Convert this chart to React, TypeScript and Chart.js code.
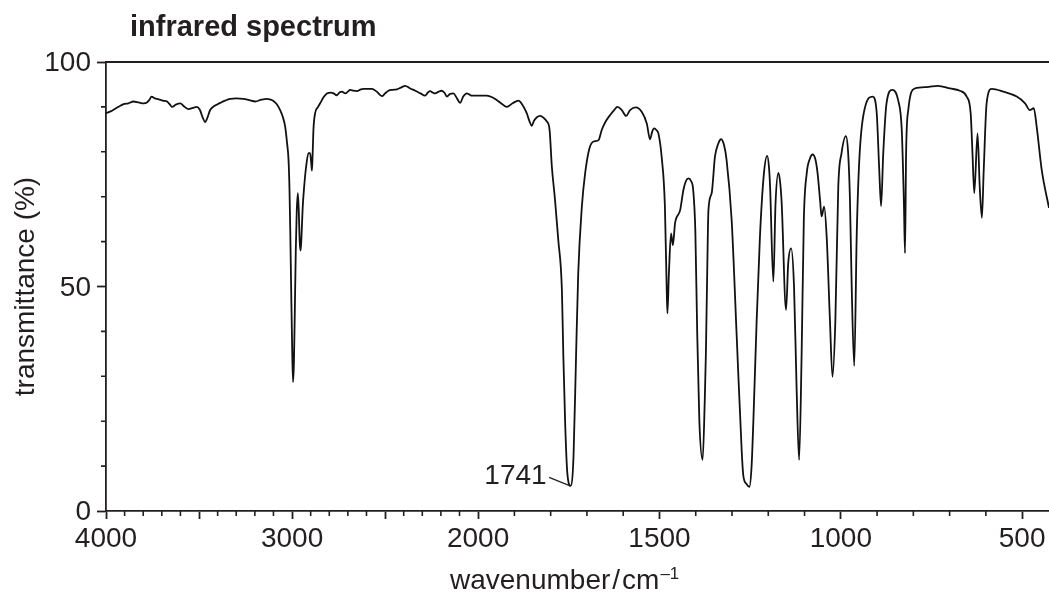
import React, { useEffect, useRef } from "react";
import { Chart, registerables } from "chart.js";

Chart.register(...registerables);

// ---------- data ----------
const highWavenumbers = [
  4000, 3975, 3950, 3930, 3905, 3880, 3852, 3825, 3798, 3780,
  3768, 3755, 3738, 3717, 3695, 3672, 3658, 3645, 3625, 3601,
  3580, 3556, 3533, 3511, 3495, 3480, 3467, 3455, 3440, 3422,
  3400, 3386, 3360, 3332, 3300, 3261, 3230, 3198, 3165, 3135,
  3115, 3100, 3082, 3064, 3050, 3037, 3027, 3019, 3014, 3010,
  3005, 3000, 2995, 2990, 2985, 2980, 2975, 2969, 2964, 2959,
  2954, 2950, 2943, 2935, 2925, 2912, 2903, 2897, 2893, 2889,
  2885, 2876, 2860, 2849, 2830, 2813, 2790, 2777, 2759, 2745,
  2732, 2714, 2700, 2688, 2670, 2652, 2630, 2616, 2590, 2571,
  2545, 2517, 2500, 2482, 2460, 2437, 2415, 2392, 2365, 2338,
  2310, 2285, 2270, 2258, 2244, 2231, 2212, 2195, 2180, 2168,
  2150, 2133, 2115, 2097, 2080, 2061, 2048, 2034, 2000,
];
const highTransmittance = [
  88.6, 89.0, 89.6, 90.1, 90.6, 90.8, 91.2, 91.0, 90.8, 91.0,
  91.5, 92.3, 91.9, 91.7, 91.4, 91.2, 90.6, 90.0, 90.5, 90.8,
  90.1, 89.5, 89.8, 90.0, 89.3, 87.6, 86.6, 87.6, 89.3, 90.1,
  90.6, 90.9, 91.4, 91.8, 91.9, 91.8, 91.5, 91.2, 91.6, 91.8,
  91.6, 91.3, 90.6, 89.3, 87.8, 85.6, 82.0, 78.2, 72.0, 63.3,
  50.0, 37.5, 28.7, 33.0, 45.0, 58.0, 66.5, 70.8, 67.0, 60.0,
  58.0, 60.5, 67.5, 72.2, 76.5, 79.7, 79.7, 77.5, 75.8, 80.0,
  85.0, 88.6, 90.0, 90.8, 92.2, 93.0, 93.2, 93.0, 92.6, 93.2,
  93.4, 93.0, 93.4, 93.8, 93.6, 93.5, 93.9, 94.0, 94.0, 94.0,
  93.4, 92.4, 93.0, 93.6, 93.8, 93.9, 94.3, 94.7, 94.1, 93.6,
  93.0, 92.5, 93.2, 93.5, 93.2, 93.0, 93.4, 93.6, 93.1, 92.3,
  92.9, 93.0, 92.0, 90.9, 92.3, 93.0, 92.8, 92.5, 92.5,
];

const lowWavenumbers = [
  1976, 1960, 1948, 1935, 1921, 1905, 1889, 1878, 1866, 1858,
  1852, 1846, 1838, 1829, 1820, 1811, 1803, 1797, 1788, 1779,
  1769, 1765, 1760, 1754, 1745, 1737, 1730, 1724, 1714, 1705,
  1693, 1682, 1668, 1659, 1648, 1636, 1625, 1616, 1604, 1592,
  1581, 1565, 1549, 1535, 1526, 1520, 1515, 1508, 1503, 1494,
  1485, 1480, 1478, 1474, 1468, 1463, 1457, 1443, 1434, 1427,
  1420, 1413, 1407, 1401, 1396, 1390, 1381, 1375, 1372, 1368,
  1365, 1356, 1347, 1338, 1330, 1322, 1315, 1301, 1287, 1273,
  1269, 1260, 1252, 1246, 1241, 1232, 1223, 1212, 1203, 1198,
  1195, 1186, 1180, 1172, 1167, 1163, 1151, 1145, 1137, 1129,
  1122, 1115, 1108, 1102, 1094, 1085, 1078, 1070, 1064, 1057,
  1053, 1046, 1039, 1030, 1023, 1015, 1007, 998, 986, 980,
  975, 970, 963, 956, 948, 933, 912, 901, 894, 889,
  883, 874, 858, 842, 832, 826, 823, 820, 814, 796,
  764, 732, 699, 672, 653, 642, 637, 632, 623, 617,
  611, 606, 598, 584, 552, 515, 492, 479, 468, 460,
  446, 426,
];
const lowTransmittance = [
  92.5, 92.1, 91.5, 90.7, 90.0, 90.8, 91.4, 90.5, 88.6, 86.7,
  85.8, 86.9, 87.7, 88.0, 87.6, 86.8, 84.9, 77.0, 69.3, 60.4,
  49.2, 34.4, 19.5, 8.4, 5.6, 12.1, 34.4, 52.9, 67.8, 75.2,
  80.8, 82.3, 82.6, 84.9, 86.8, 88.2, 89.3, 90.0, 89.3, 88.0,
  89.3, 89.9, 88.9, 86.3, 82.8, 84.5, 85.2, 84.8, 84.1, 78.9,
  67.8, 49.2, 44.0, 52.9, 61.8, 59.2, 64.1, 67.0, 71.5, 73.5,
  74.1, 73.5, 71.5, 62.0, 40.0, 20.0, 11.4, 25.0, 35.1, 55.0,
  67.0, 70.8, 78.9, 81.8, 82.8, 81.5, 78.2, 64.8, 38.8, 12.9,
  8.0, 6.0, 5.4, 10.0, 20.3, 42.5, 61.1, 75.2, 79.1, 76.5,
  72.2, 51.1, 68.5, 75.3, 73.0, 68.5, 44.8, 55.2, 58.5, 50.0,
  27.7, 11.4, 35.1, 64.8, 75.2, 78.5, 79.4, 78.3, 75.2, 69.0,
  65.6, 67.8, 61.1, 42.5, 29.9, 42.5, 72.2, 79.7, 83.5, 80.0,
  70.0, 50.0, 32.3, 62.0, 79.7, 90.0, 92.3, 88.6, 75.9, 67.9,
  79.7, 90.8, 93.8, 91.5, 84.9, 68.5, 57.4, 79.7, 89.3, 94.1,
  94.4, 94.7, 94.1, 93.6, 92.3, 88.6, 79.7, 70.8, 84.1, 72.2,
  65.3, 75.9, 90.8, 94.0, 93.4, 92.3, 90.8, 89.3, 89.7, 85.6,
  75.9, 67.5,
];

const xMajorTicks = [4000, 3500, 3000, 2500, 2000, 1500, 1000, 500];
const xTickLabels = ["4000", "", "3000", "", "2000", "1500", "1000", "500"];
const xMinorTicks = [
  3900, 3800, 3700, 3600, 3400, 3300, 3200, 3100, 2900, 2800, 2700, 2600,
  2400, 2300, 2200, 2100, 1900, 1800, 1700, 1600, 1400, 1300, 1200, 1100,
  900, 800, 700, 600,
];
const yMajorTicks = [0, 50, 100];
const yMinorTicks = [10, 20, 30, 40, 60, 70, 80, 90];

const peakWavenumber = 1745;
const peakTransmittance = 5.6;
const peakLabel = "1741";

const titleText = "infrared spectrum";
const yTitleText = "transmittance (%)";
const xTitleMain = "wavenumber";
const xTitleUnit = "cm";
const xTitleExponent = "–1";

// ---------- axis mapping (spectrum scale changes at 2000 cm-1) ----------
const X_START = 4000;
const X_END = 426;
const BREAK = 2000;
const HIGH_COMPRESSION = 0.513;
const toAxis = (w: number) =>
  w >= BREAK
    ? (X_START - w) * HIGH_COMPRESSION
    : (X_START - BREAK) * HIGH_COMPRESSION + (BREAK - w);

const INK = "#231f20";
const FONT = "'Liberation Sans', Arial, Helvetica, sans-serif";

const decorPlugin = {
  id: "irDecor",
  afterDraw(chart: any) {
    const { ctx, chartArea } = chart;
    const xs = chart.scales.x;
    const ys = chart.scales.y;
    ctx.save();
    ctx.strokeStyle = INK;
    ctx.fillStyle = INK;

    // top frame line
    ctx.lineWidth = 1.8;
    ctx.beginPath();
    ctx.moveTo(chartArea.left - 0.9, chartArea.top);
    ctx.lineTo(chartArea.right, chartArea.top);
    ctx.stroke();

    // minor ticks
    ctx.lineWidth = 1.6;
    ctx.beginPath();
    xMinorTicks.forEach((w) => {
      const px = xs.getPixelForValue(toAxis(w));
      ctx.moveTo(px, chartArea.bottom);
      ctx.lineTo(px, chartArea.bottom + 5);
    });
    yMinorTicks.forEach((t) => {
      const py = ys.getPixelForValue(t);
      ctx.moveTo(chartArea.left, py);
      ctx.lineTo(chartArea.left - 5, py);
    });
    ctx.stroke();

    // peak annotation
    const ax = xs.getPixelForValue(toAxis(peakWavenumber));
    const ay = ys.getPixelForValue(peakTransmittance);
    ctx.lineWidth = 1.2;
    ctx.beginPath();
    ctx.moveTo(ax - 21.5, ay - 8.5);
    ctx.lineTo(ax - 0.5, ay);
    ctx.stroke();
    ctx.font = `28px ${FONT}`;
    ctx.textAlign = "right";
    ctx.textBaseline = "middle";
    ctx.fillText(peakLabel, ax - 24, ay - 9.5);

    // chart title
    ctx.font = `bold 29px ${FONT}`;
    ctx.textAlign = "left";
    ctx.textBaseline = "alphabetic";
    ctx.fillText(titleText, 130, 36);

    // y title
    ctx.save();
    ctx.font = `28px ${FONT}`;
    ctx.translate(34, (chartArea.top + chartArea.bottom) / 2);
    ctx.rotate(-Math.PI / 2);
    ctx.textAlign = "center";
    ctx.textBaseline = "alphabetic";
    ctx.fillText(yTitleText, 0, 0);
    ctx.restore();

    // x title
    ctx.font = `28px ${FONT}`;
    ctx.textAlign = "left";
    ctx.textBaseline = "alphabetic";
    const base = 589;
    let x = 450;
    ctx.fillText(xTitleMain, x, base);
    x += ctx.measureText(xTitleMain).width + 2;
    ctx.fillText("/", x, base);
    x += ctx.measureText("/").width + 2;
    ctx.fillText(xTitleUnit, x, base);
    x += ctx.measureText(xTitleUnit).width + 1;
    ctx.font = `17px ${FONT}`;
    ctx.fillText(xTitleExponent, x, base - 10);

    ctx.restore();
  },
};

export default function App() {
  const canvasRef = useRef<HTMLCanvasElement | null>(null);

  useEffect(() => {
    if (!canvasRef.current) return;
    const wavenumbers = [...highWavenumbers, ...lowWavenumbers];
    const transmittance = [...highTransmittance, ...lowTransmittance];
    const points = wavenumbers.map((w, i) => ({ x: toAxis(w), y: transmittance[i] }));

    const chart = new Chart(canvasRef.current, {
      type: "line",
      data: {
        datasets: [
          {
            data: points,
            borderColor: "#111111",
            borderWidth: 1.8,
            pointRadius: 0,
            cubicInterpolationMode: "monotone",
            fill: false,
          },
        ],
      },
      options: {
        animation: false,
        responsive: false,
        devicePixelRatio: 1,
        layout: { padding: { top: 62, left: 0, right: 0, bottom: 0 } },
        plugins: {
          legend: { display: false },
          title: { display: false },
          tooltip: { enabled: false },
        },
        scales: {
          x: {
            type: "linear",
            min: toAxis(X_START),
            max: toAxis(X_END),
            afterBuildTicks: (scale: any) => {
              scale.ticks = xMajorTicks.map((w) => ({ value: toAxis(w) }));
            },
            afterFit: (scale: any) => {
              scale.height = 85;
              scale.paddingLeft = 0;
              scale.paddingRight = 0;
            },
            ticks: {
              autoSkip: false,
              maxRotation: 0,
              padding: 3,
              color: INK,
              font: { family: FONT, size: 28 },
              callback: (_v: any, index: number) => xTickLabels[index],
            },
            grid: {
              drawOnChartArea: false,
              drawTicks: true,
              tickLength: 8,
              tickWidth: 1.8,
              tickColor: INK,
            },
            border: { display: true, color: INK, width: 1.8 },
          },
          y: {
            type: "linear",
            min: 0,
            max: 100,
            afterBuildTicks: (scale: any) => {
              scale.ticks = yMajorTicks.map((v) => ({ value: v }));
            },
            afterFit: (scale: any) => {
              scale.width = 106;
              scale.paddingTop = 0;
              scale.paddingBottom = 0;
            },
            ticks: {
              padding: 6,
              labelOffset: 1.5,
              color: INK,
              font: { family: FONT, size: 28 },
              callback: (v: any) => String(v),
            },
            grid: {
              drawOnChartArea: false,
              drawTicks: true,
              tickLength: 9,
              tickWidth: 1.8,
              tickColor: INK,
            },
            border: { display: true, color: INK, width: 1.8 },
          },
        },
      },
      plugins: [decorPlugin],
    } as any);

    return () => chart.destroy();
  }, []);

  return (
    <div style={{ position: "absolute", left: 0, top: 0, width: 1049, height: 596, background: "#fff" }}>
      <canvas ref={canvasRef} width={1049} height={596} style={{ display: "block" }} />
    </div>
  );
}
